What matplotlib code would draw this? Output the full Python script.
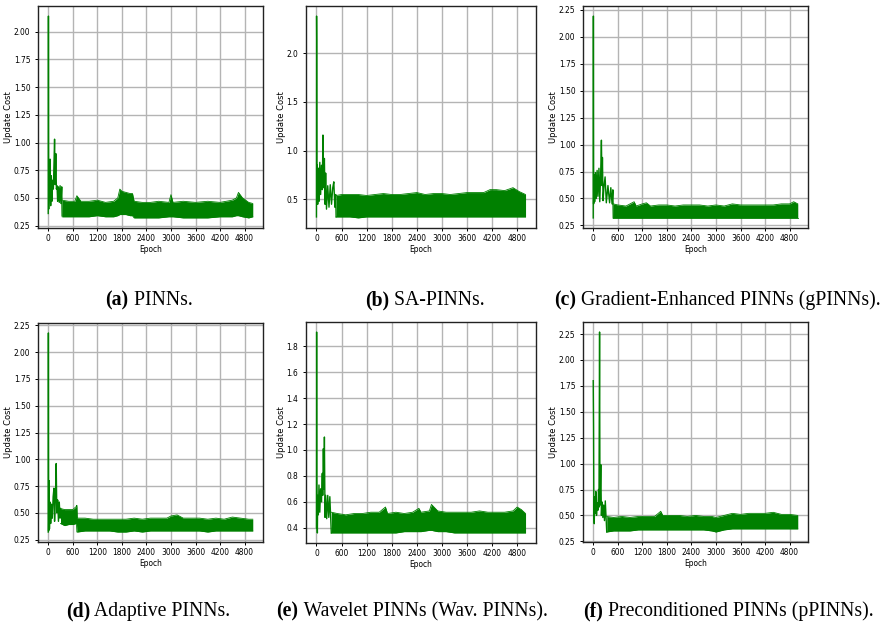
import matplotlib
matplotlib.use("Agg")
import matplotlib.pyplot as plt
from matplotlib import font_manager as fm
from matplotlib.ticker import MultipleLocator

# Update cost per epoch for six PINN variants.
# Each run: an early transient (head) followed by a noisy plateau (band).

# (a) PINNs
a_head_epoch = [0, 5, 12, 20, 30, 45, 60, 75, 90, 110, 125, 140, 155, 170, 185, 200, 215, 230, 250, 270, 290, 310, 330, 340]
a_head_cost = [0.36, 2.14, 0.40, 0.75, 0.55, 0.85, 0.43, 0.70, 0.47, 0.66, 0.58, 0.80, 1.03, 0.62, 0.90, 0.58, 0.61, 0.47, 0.60, 0.46, 0.61, 0.45, 0.60, 0.34]
a_band_epoch = [340, 500, 650, 700, 800, 1000, 1200, 1400, 1600, 1700, 1750, 1800, 1900, 2000, 2060, 2100, 2300, 2500, 2700, 2950, 3000, 3050, 3300, 3600, 3900, 4200, 4500, 4600, 4650, 4750, 4900, 5000]
a_band_high = [0.48, 0.47, 0.47, 0.52, 0.47, 0.47, 0.48, 0.46, 0.47, 0.50, 0.58, 0.56, 0.55, 0.54, 0.54, 0.47, 0.46, 0.46, 0.47, 0.46, 0.53, 0.46, 0.47, 0.46, 0.47, 0.46, 0.48, 0.50, 0.55, 0.50, 0.46, 0.45]
a_band_low = [0.33, 0.33, 0.33, 0.33, 0.33, 0.33, 0.34, 0.33, 0.33, 0.34, 0.35, 0.35, 0.35, 0.34, 0.34, 0.32, 0.32, 0.32, 0.32, 0.33, 0.33, 0.33, 0.32, 0.32, 0.32, 0.33, 0.33, 0.34, 0.34, 0.33, 0.32, 0.33]

# (b) SA-PINNs
b_head_epoch = [0, 3, 6, 10, 20, 30, 45, 60, 80, 100, 120, 140, 155, 170, 190, 205, 220, 240, 270, 300, 330, 360, 390, 415, 440, 460, 470]
b_head_cost = [0.32, 2.38, 2.14, 0.62, 0.85, 0.45, 0.82, 0.48, 0.88, 0.55, 0.85, 0.60, 1.16, 0.62, 0.92, 0.45, 0.77, 0.40, 0.64, 0.42, 0.65, 0.45, 0.62, 0.68, 0.42, 0.55, 0.32]
b_band_epoch = [470, 600, 800, 1000, 1200, 1400, 1600, 1800, 2000, 2200, 2400, 2600, 2800, 3000, 3200, 3400, 3600, 3800, 4000, 4150, 4300, 4500, 4700, 4850, 5000]
b_band_high = [0.54, 0.55, 0.55, 0.55, 0.54, 0.55, 0.56, 0.55, 0.55, 0.56, 0.57, 0.55, 0.56, 0.56, 0.55, 0.56, 0.57, 0.57, 0.57, 0.60, 0.60, 0.59, 0.62, 0.58, 0.55]
b_band_low = [0.32, 0.32, 0.32, 0.31, 0.32, 0.32, 0.32, 0.32, 0.32, 0.32, 0.32, 0.32, 0.32, 0.32, 0.32, 0.32, 0.32, 0.32, 0.32, 0.32, 0.32, 0.32, 0.32, 0.32, 0.32]

# (c) Gradient-Enhanced PINNs
c_head_epoch = [0, 4, 10, 20, 35, 55, 75, 95, 115, 140, 160, 180, 200, 215, 225, 240, 265, 290, 320, 360, 400, 430, 460, 480, 490]
c_head_cost = [0.32, 2.19, 0.45, 0.72, 0.47, 0.74, 0.50, 0.76, 0.52, 0.78, 0.47, 0.70, 1.04, 0.62, 0.88, 0.48, 0.62, 0.70, 0.46, 0.62, 0.46, 0.60, 0.45, 0.58, 0.32]
c_band_epoch = [490, 600, 800, 1000, 1050, 1200, 1300, 1400, 1600, 1800, 2000, 2200, 2400, 2600, 2800, 3000, 3200, 3400, 3600, 3800, 4000, 4200, 4400, 4600, 4800, 4900, 5000]
c_band_high = [0.45, 0.44, 0.43, 0.47, 0.43, 0.45, 0.46, 0.43, 0.44, 0.44, 0.43, 0.44, 0.44, 0.44, 0.43, 0.44, 0.43, 0.45, 0.44, 0.44, 0.44, 0.44, 0.44, 0.45, 0.45, 0.47, 0.45]
c_band_low = [0.32, 0.32, 0.32, 0.32, 0.32, 0.32, 0.32, 0.32, 0.32, 0.32, 0.32, 0.32, 0.32, 0.32, 0.32, 0.32, 0.32, 0.32, 0.32, 0.32, 0.32, 0.32, 0.32, 0.32, 0.32, 0.32, 0.32]

# (d) Adaptive PINNs
d_head_epoch = [0, 4, 10, 18, 30, 45, 60, 80, 100, 120, 140, 155, 175, 195, 210, 230, 250, 270, 290, 300]
d_head_cost = [0.32, 2.18, 0.33, 0.80, 0.35, 0.60, 0.40, 0.58, 0.45, 0.65, 0.73, 0.42, 0.62, 0.96, 0.50, 0.62, 0.42, 0.60, 0.45, 0.54]
d_band_epoch = [300, 400, 500, 600, 690, 700, 710, 900, 1100, 1300, 1500, 1700, 1900, 2100, 2300, 2500, 2700, 2900, 3000, 3150, 3300, 3500, 3700, 3900, 4100, 4300, 4500, 4700, 4900, 5000]
d_band_high = [0.54, 0.53, 0.53, 0.53, 0.56, 0.57, 0.45, 0.45, 0.44, 0.44, 0.44, 0.44, 0.44, 0.45, 0.44, 0.45, 0.45, 0.45, 0.47, 0.48, 0.45, 0.45, 0.45, 0.44, 0.45, 0.44, 0.46, 0.45, 0.44, 0.44]
d_band_low = [0.40, 0.38, 0.39, 0.39, 0.40, 0.32, 0.32, 0.33, 0.33, 0.33, 0.33, 0.32, 0.32, 0.33, 0.32, 0.33, 0.33, 0.33, 0.33, 0.33, 0.33, 0.33, 0.33, 0.32, 0.33, 0.33, 0.33, 0.33, 0.33, 0.33]

# (e) Wavelet PINNs
e_head_epoch = [0, 4, 8, 15, 22, 30, 45, 60, 80, 100, 120, 140, 150, 165, 180, 190, 205, 220, 245, 270, 295, 320, 340, 355]
e_head_cost = [0.40, 1.91, 0.76, 0.42, 0.36, 0.65, 0.50, 0.73, 0.52, 0.70, 0.60, 0.82, 0.65, 1.01, 0.70, 1.10, 0.48, 0.65, 0.47, 0.65, 0.48, 0.64, 0.48, 0.36]
e_band_epoch = [355, 500, 700, 900, 1100, 1300, 1500, 1650, 1700, 1900, 2100, 2300, 2450, 2500, 2700, 2750, 2900, 3100, 3300, 3500, 3700, 3900, 4100, 4300, 4500, 4700, 4800, 4900, 5000]
e_band_high = [0.52, 0.51, 0.50, 0.51, 0.51, 0.52, 0.52, 0.56, 0.51, 0.52, 0.51, 0.52, 0.55, 0.52, 0.53, 0.58, 0.53, 0.52, 0.52, 0.52, 0.52, 0.53, 0.52, 0.52, 0.52, 0.53, 0.56, 0.54, 0.51]
e_band_low = [0.36, 0.36, 0.36, 0.36, 0.36, 0.36, 0.36, 0.36, 0.36, 0.36, 0.37, 0.37, 0.37, 0.37, 0.38, 0.38, 0.37, 0.37, 0.36, 0.36, 0.36, 0.36, 0.36, 0.36, 0.36, 0.36, 0.36, 0.36, 0.36]

# (f) Preconditioned PINNs
f_head_epoch = [0, 8, 15, 25, 35, 50, 65, 80, 100, 115, 130, 140, 155, 165, 185, 200, 215, 235, 255, 275, 295, 315, 330]
f_head_cost = [1.80, 1.35, 0.55, 0.42, 0.68, 0.52, 0.73, 0.50, 0.62, 0.55, 0.75, 0.58, 2.27, 0.60, 0.99, 0.50, 0.63, 0.48, 0.60, 0.45, 0.64, 0.47, 0.34]
f_band_epoch = [330, 500, 700, 900, 1100, 1300, 1500, 1650, 1700, 1900, 2100, 2300, 2500, 2700, 2900, 3000, 3200, 3400, 3600, 3800, 4000, 4200, 4400, 4600, 4800, 5000]
f_band_high = [0.49, 0.48, 0.49, 0.48, 0.49, 0.49, 0.49, 0.54, 0.50, 0.50, 0.50, 0.49, 0.50, 0.49, 0.49, 0.48, 0.50, 0.52, 0.51, 0.52, 0.52, 0.52, 0.53, 0.51, 0.51, 0.50]
f_band_low = [0.34, 0.35, 0.35, 0.35, 0.36, 0.36, 0.36, 0.36, 0.36, 0.36, 0.36, 0.36, 0.36, 0.36, 0.35, 0.34, 0.36, 0.37, 0.37, 0.37, 0.37, 0.37, 0.37, 0.37, 0.37, 0.37]

captions = [
    ("(a)", " PINNs."),
    ("(b)", " SA-PINNs."),
    ("(c)", " Gradient-Enhanced PINNs (gPINNs)."),
    ("(d)", " Adaptive PINNs."),
    ("(e)", " Wavelet PINNs (Wav. PINNs)."),
    ("(f)", " Preconditioned PINNs (pPINNs)."),
]

runs = [
    (a_head_epoch, a_head_cost, a_band_epoch, a_band_low, a_band_high),
    (b_head_epoch, b_head_cost, b_band_epoch, b_band_low, b_band_high),
    (c_head_epoch, c_head_cost, c_band_epoch, c_band_low, c_band_high),
    (d_head_epoch, d_head_cost, d_band_epoch, d_band_low, d_band_high),
    (e_head_epoch, e_head_cost, e_band_epoch, e_band_low, e_band_high),
    (f_head_epoch, f_head_cost, f_band_epoch, f_band_low, f_band_high),
]

# y tick spacing per panel
y_steps = [0.25, 0.5, 0.25, 0.25, 0.2, 0.25]

W, H = 896, 629
# axes boxes in pixels: left, top, right, bottom
boxes = [
    (38, 6, 263, 228), (306, 6, 536, 228), (583, 6, 808, 228),
    (38, 323, 263, 542), (306, 322, 536, 543), (583, 322, 808, 542),
]
# caption centre x and baseline y, in pixels
cap_pos = [(149, 305), (425, 305), (717, 305), (148, 616), (412, 616), (728, 616)]


def narrow_font(size):
    # a condensed sans face if one is installed, else plain DejaVu Sans
    for f in fm.fontManager.ttflist:
        base = f.fname.lower()
        if ("narrow" in base or "condensed" in base) and f.style == "normal" \
                and f.weight in (400, "normal", "regular") and "bold" not in base:
            return fm.FontProperties(fname=f.fname, size=size)
    return fm.FontProperties(family="DejaVu Sans", size=size - 0.5)


tick_font = narrow_font(6)
green = "#008000"

fig = plt.figure(figsize=(W / 100, H / 100), dpi=100)
axes = []

for i, (he, hc, be, bl, bh) in enumerate(runs):
    l, t, r, b = boxes[i]
    ax = fig.add_axes([l / W, 1 - b / H, (r - l) / W, (b - t) / H])
    ax.fill_between(be, bl, bh, color=green, lw=0)
    ax.plot(be, bh, color=green, lw=0.6)
    ax.plot(be, bl, color=green, lw=0.6)
    ax.plot(he, hc, color=green, lw=1.0)

    ax.xaxis.set_major_locator(MultipleLocator(600))
    ax.yaxis.set_major_locator(MultipleLocator(y_steps[i]))
    ax.grid(True, color="#b4b4b4", lw=1.0)
    ax.set_axisbelow(True)
    for s in ax.spines.values():
        s.set_linewidth(1.0)
        s.set_color("#222222")
    ax.tick_params(labelsize=6, length=2.5, width=0.7, pad=2)
    ax.tick_params(axis="y", pad=3)
    ax.set_xlabel("Epoch", fontproperties=tick_font, labelpad=1)
    ax.set_ylabel("Update Cost", fontsize=6, labelpad=0.5)
    axes.append(ax)

fig.canvas.draw()
for ax in axes:
    for lab in ax.get_xticklabels() + ax.get_yticklabels():
        lab.set_fontproperties(tick_font)

# two-part captions: bold tag + plain text, centred as one line
renderer = fig.canvas.get_renderer()
for (lead, rest), (x, y) in zip(captions, cap_pos):
    t1 = fig.text(0, 1 - y / H, lead, fontsize=14.2, family="Liberation Serif",
                  weight="bold", ha="left", va="baseline")
    t2 = fig.text(0, 1 - y / H, rest, fontsize=14.2, family="Liberation Serif",
                  ha="left", va="baseline")
    w1 = t1.get_window_extent(renderer).width
    w2 = t2.get_window_extent(renderer).width
    x0 = x - (w1 + w2) / 2
    t1.set_x(x0 / W)
    t2.set_x((x0 + w1) / W)

fig.savefig("out.png", dpi=100)
